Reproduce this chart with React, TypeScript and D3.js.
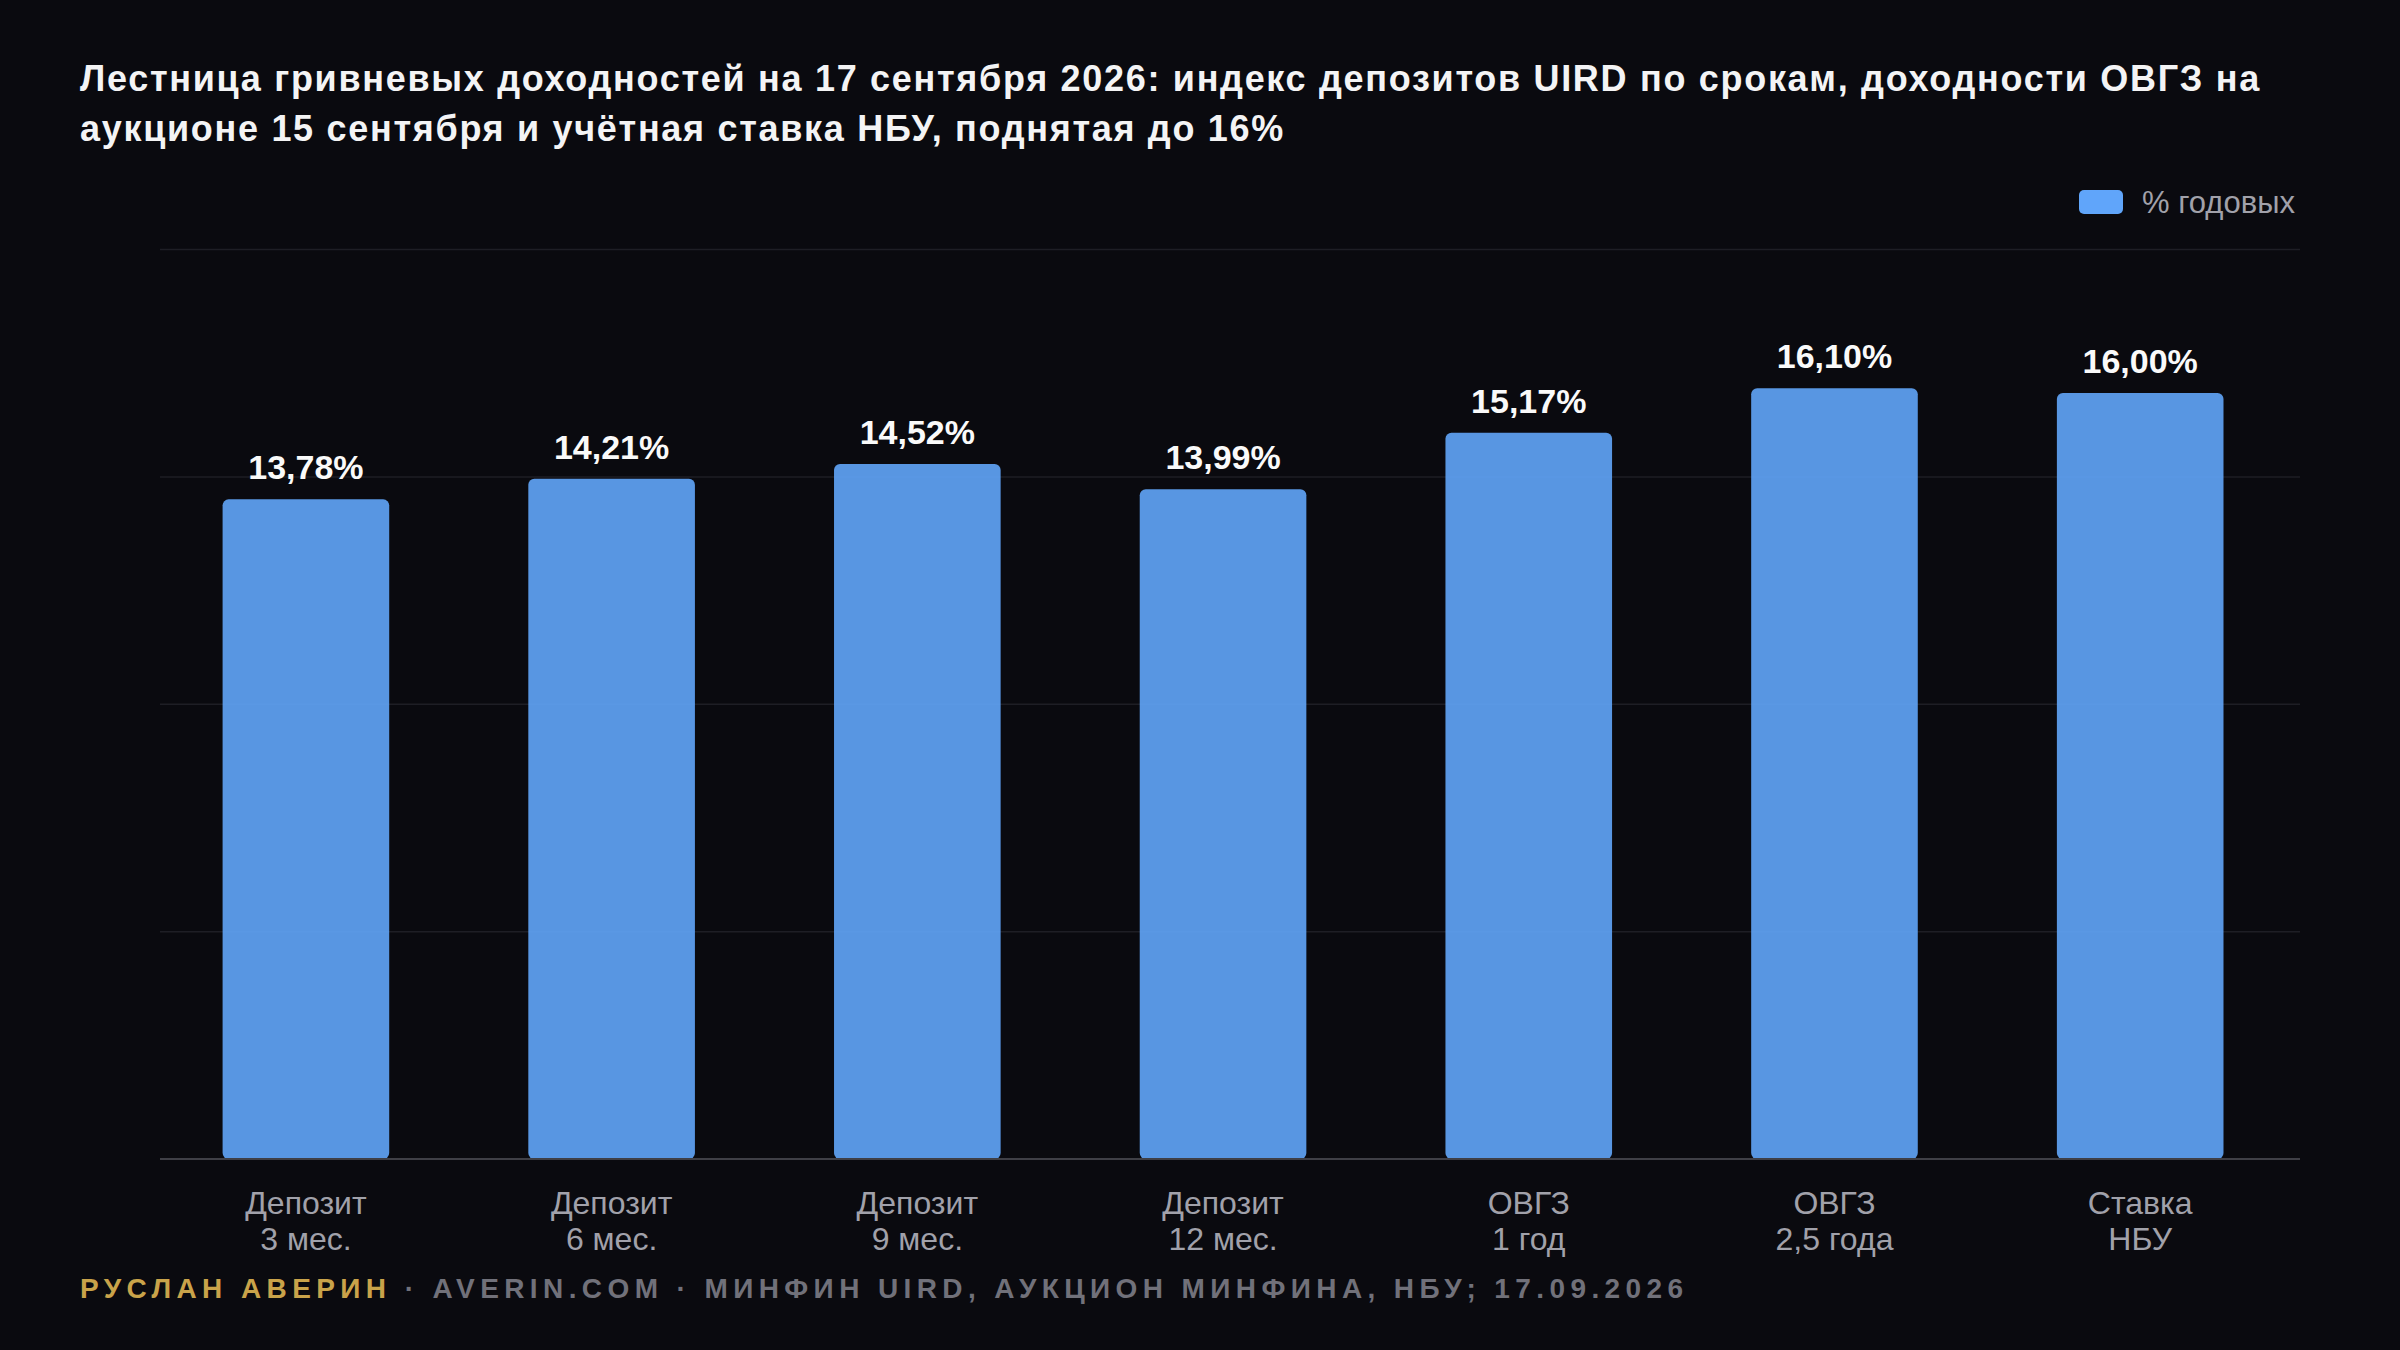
import { useEffect } from 'react'
import * as d3 from 'd3'

const W = 2400
const H = 1350
const MARGIN = { top: 249.5, right: 100, bottom: 191, left: 160 }

const TITLE_LINES = [
  'Лестница гривневых доходностей на 17 сентября 2026: индекс депозитов UIRD по срокам, доходности ОВГЗ на',
  'аукционе 15 сентября и учётная ставка НБУ, поднятая до 16%',
]

const CATEGORIES = ['dep3', 'dep6', 'dep9', 'dep12', 'ovgz1', 'ovgz25', 'nbu']
const LABEL_TOP = ['Депозит', 'Депозит', 'Депозит', 'Депозит', 'ОВГЗ', 'ОВГЗ', 'Ставка']
const LABEL_BOTTOM = ['3 мес.', '6 мес.', '9 мес.', '12 мес.', '1 год', '2,5 года', 'НБУ']
const VALUES = [13.78, 14.21, 14.52, 13.99, 15.17, 16.1, 16.0]
const Y_TICKS = [0, 4.75, 9.5, 14.25, 19]

const BG = '#0a0a0f'
const BAR = '#60a5fa'
const FONT = '"Liberation Sans", Arial, Helvetica, sans-serif'

const fmt = (v: number) => v.toFixed(2).replace('.', ',') + '%'

export default function App() {
  useEffect(() => {
    document.body.style.margin = '0'
    document.body.style.background = BG
  }, [])

  const x = d3.scaleBand<string>()
    .domain(CATEGORIES)
    .range([MARGIN.left, W - MARGIN.right])
    .paddingInner(0.455)
    .paddingOuter(0.2275)
    .align(0.45)

  const y = d3.scaleLinear()
    .domain([0, 19])
    .range([H - MARGIN.bottom, MARGIN.top])

  const cx = (c: string) => (x(c) ?? 0) + x.bandwidth() / 2

  return (
    <svg width={W} height={H} style={{ display: 'block', background: BG, fontFamily: FONT }}>
      <rect width={W} height={H} fill={BG} />

      <text fill="#f4f4f5" fontSize={36} fontWeight={700} letterSpacing={1.7}>
        {TITLE_LINES.map((t, i) => (
          <tspan key={i} x={80} y={91 + i * 50}>{t}</tspan>
        ))}
      </text>

      {/* legend */}
      <rect x={2079} y={190} width={44} height={24} rx={5} fill={BAR} />
      <text x={2142} y={213} fill="#a1a1aa" fontSize={31}>% годовых</text>

      {/* grid */}
      {Y_TICKS.filter(t => t > 0).map(t => (
        <line key={t} x1={MARGIN.left} x2={W - MARGIN.right} y1={y(t)} y2={y(t)}
          stroke="#1e1e25" strokeWidth={1.5} />
      ))}

      {/* bars */}
      {CATEGORIES.map((c, i) => (
        <g key={c}>
          <rect x={x(c)} y={y(VALUES[i])} width={x.bandwidth()} height={y(0) - y(VALUES[i])}
            rx={6} fill={BAR} fillOpacity={0.9} />
          <text x={cx(c)} y={y(VALUES[i]) - 20} textAnchor="middle"
            fill="#fafafa" fontSize={34} fontWeight={700}>{fmt(VALUES[i])}</text>
          <text textAnchor="middle" fill="#a1a1aa" fontSize={32}>
            <tspan x={cx(c)} y={y(0) + 55}>{LABEL_TOP[i]}</tspan>
            <tspan x={cx(c)} y={y(0) + 91}>{LABEL_BOTTOM[i]}</tspan>
          </text>
        </g>
      ))}

      {/* baseline */}
      <line x1={MARGIN.left} x2={W - MARGIN.right} y1={y(0)} y2={y(0)} stroke="#3f3f46" strokeWidth={2} />

      {/* footer */}
      <text x={80} y={1298} fontSize={28} fontWeight={700} letterSpacing={5.4}>
        <tspan fill="#c9a34a">РУСЛАН АВЕРИН</tspan>
        <tspan fill="#71717a"> · AVERIN.COM · МИНФИН UIRD, АУКЦИОН МИНФИНА, НБУ; 17.09.2026</tspan>
      </text>
    </svg>
  )
}
